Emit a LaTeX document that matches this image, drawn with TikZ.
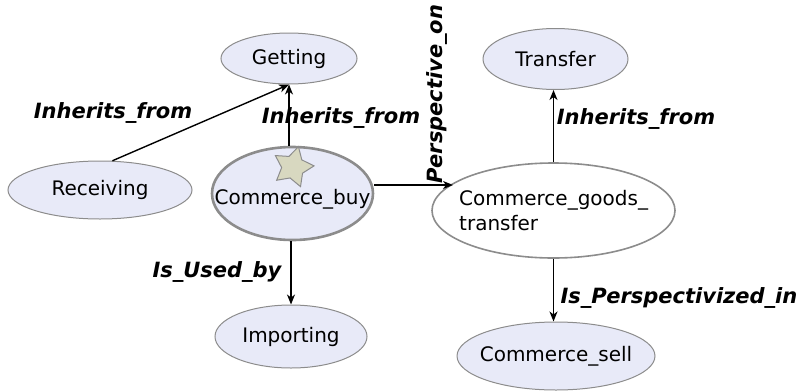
\documentclass[tikz,border=0pt]{standalone}
\usepackage{fontspec}
\setmainfont{DejaVu Sans}
\usetikzlibrary{shapes.geometric,arrows.meta}
\definecolor{nodefill}{HTML}{E8EAF8}
\definecolor{nodeborder}{HTML}{8C8C8C}
\definecolor{starfill}{HTML}{D8D8C0}
\newcommand{\zw}[1]{\makebox[0pt]{#1}}
\tikzset{
  frame/.style={ellipse, draw=nodeborder, line width=1pt, fill=nodefill, inner sep=0pt,
     font=\fontsize{20}{25}\selectfont},
  focus/.style={frame, line width=2.6pt},
  plain/.style={frame, fill=white, line width=1.6pt},
  rel/.style={draw=black, line width=1.4pt, -{Stealth[length=10pt,width=8pt,inset=3pt]}},
  lab/.style={font=\fontsize{21}{25}\selectfont\bfseries\itshape, inner sep=0pt},
}
\begin{document}
\begin{tikzpicture}[x=1pt,y=-1pt]
\useasboundingbox (0,0) rectangle (800,391);
\node[frame, minimum width=136, minimum height=51] (getting) at (289,58.5) {\zw{Getting}};
\node[frame, minimum width=145, minimum height=61] (transfer) at (555.5,59) {\zw{Transfer}};
\node[frame, minimum width=184, minimum height=58] (receiving) at (100,190) {\zw{Receiving}};
\node[focus, minimum width=161, minimum height=93] (buy) at (292.5,193.5) {};
\node[inner sep=0pt, font=\fontsize{20}{25}\selectfont] (buytext) at (292.5,199) {Commerce\_buy};
\node[plain, minimum width=243, minimum height=95] (cgt) at (553.5,210.5) {};
\node[anchor=base west, inner sep=0pt, font=\fontsize{20}{25}\selectfont, align=left] (cgttext) at (459,230)
   {Commerce\_goods\_\\transfer};
\node[frame, minimum width=152, minimum height=63] (importing) at (291,336.5) {\zw{Importing}};
\node[frame, minimum width=198, minimum height=68] (sell) at (556,356) {\zw{Commerce\_sell}};
\node[star, star points=5, star point ratio=1.85, draw=nodeborder, fill=starfill, line width=1pt,
      minimum size=42pt, inner sep=0pt, rotate=-15] (st) at (293,167) {};
\coordinate (cgtin) at (453,185);
\draw[rel] (receiving.67) -- (getting.south);
\draw[rel] (buy.north -| getting.south) -- (getting.south);
\draw[rel] (buy.east |- cgtin) -- (cgtin);
\draw[rel] (cgt.north) -- (cgt.north |- transfer.south);
\draw[rel] (buy.south -| importing.north) -- (importing.north);
\draw[rel] (cgt.south) -- (cgt.south |- sell.north);
\node[lab] (l1) at (113,113) {Inherits\_from};
\node[lab] (l2) at (341,118) {Inherits\_from};
\node[lab] (l3) at (636,119) {Inherits\_from};
\node[lab, rotate=90] (l4) at (437,94) {Perspective\_on};
\node[lab] (l5) at (217,272) {Is\_Used\_by};
\node[lab] (l6) at (679,298) {Is\_Perspectivized\_in};
\end{tikzpicture}
\end{document}
